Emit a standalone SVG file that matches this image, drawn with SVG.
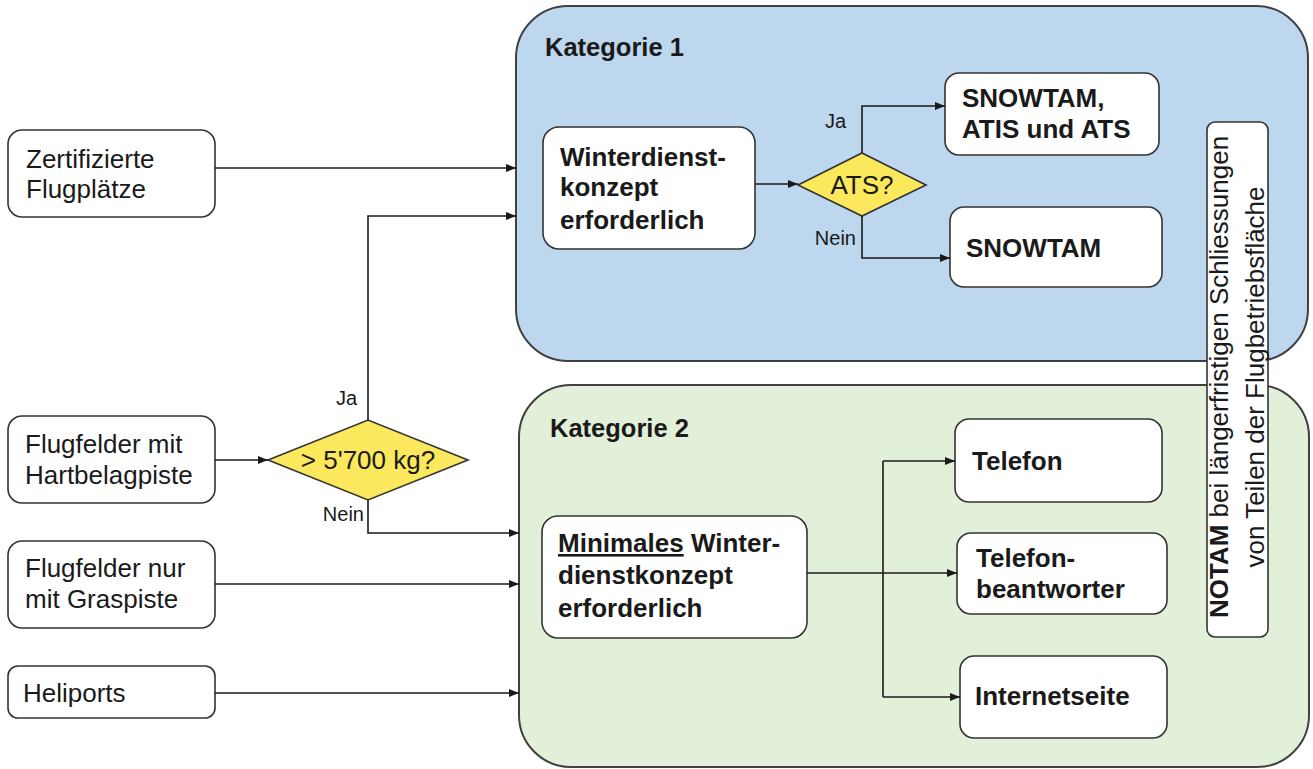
<svg xmlns="http://www.w3.org/2000/svg" width="1313" height="769" viewBox="0 0 1313 769">
<defs>
<style>
text{font-family:"Liberation Sans",Arial,sans-serif;fill:#1a1a1a}
.n{fill:#fff;stroke:#333;stroke-width:1.6}
.t{font-size:26px}
.b{font-size:26px;font-weight:bold}
.h{font-size:25.5px;font-weight:bold}
.l{font-size:20px}
.c{fill:none;stroke:#1a1a1a;stroke-width:1.6}
.d{fill:#FCE85C;stroke:#333;stroke-width:1.6}
</style>
<marker id="a" markerUnits="userSpaceOnUse" markerWidth="11" markerHeight="9" refX="10" refY="4" orient="auto">
<path d="M0,0 L10,4 L0,8 z" fill="#1a1a1a"/>
</marker>
</defs>
<rect width="1313" height="769" fill="#fff"/>
<g id="kategorie1">
<rect x="516" y="6" width="792" height="355" rx="52" fill="#BDD7EE" stroke="#404040" stroke-width="2"/>
<text class="h" x="545" y="56">Kategorie 1</text>
</g>
<g id="kategorie2">
<rect x="519" y="385" width="790" height="382" rx="52" fill="#E2F0D9" stroke="#404040" stroke-width="2"/>
<text class="h" x="550" y="437">Kategorie 2</text>
</g>
<g id="notam">
<rect class="n" x="1207" y="122" width="61" height="515" rx="8"/>
<text class="t" transform="translate(1228,377) rotate(-90)" text-anchor="middle"><tspan font-weight="bold">NOTAM</tspan>  bei längerfristigen Schliessungen</text>
<text class="t" transform="translate(1264,377) rotate(-90)" text-anchor="middle">von  Teilen der Flugbetriebsfläche</text>
</g>
<g id="zertifizierte">
<rect class="n" x="8" y="130" width="207" height="87" rx="14"/>
<text class="t" x="26" y="168">Zertifizierte</text>
<text class="t" x="26" y="198">Flugplätze</text>
</g>
<g id="hartbelag">
<rect class="n" x="8" y="416" width="207" height="87" rx="14"/>
<text class="t" x="25" y="453">Flugfelder mit</text>
<text class="t" x="25" y="484">Hartbelagpiste</text>
</g>
<g id="graspiste">
<rect class="n" x="8" y="541" width="207" height="87" rx="14"/>
<text class="t" x="25" y="577">Flugfelder nur</text>
<text class="t" x="25" y="608">mit Graspiste</text>
</g>
<g id="heliports">
<rect class="n" x="8" y="666" width="207" height="52" rx="10"/>
<text class="t" x="23" y="702">Heliports</text>
</g>
<g id="gewicht">
<polygon class="d" points="268,460 368,420 468,460 368,500"/>
<text class="t" x="368" y="469" text-anchor="middle">&gt; 5'700 kg?</text>
</g>
<g id="winterdienst">
<rect class="n" x="543" y="127" width="212" height="122" rx="16"/>
<text class="b" x="560" y="166">Winterdienst-</text>
<text class="b" x="560" y="196">konzept</text>
<text class="b" x="560" y="229">erforderlich</text>
</g>
<g id="ats">
<polygon class="d" points="798,185 862,153 926,185 862,216"/>
<text class="t" x="862" y="194" text-anchor="middle">ATS?</text>
</g>
<g id="snowtam-atis">
<rect class="n" x="945" y="73" width="214" height="82" rx="14"/>
<text class="b" x="962" y="107">SNOWTAM,</text>
<text class="b" x="962" y="138">ATIS und ATS</text>
</g>
<g id="snowtam">
<rect class="n" x="950" y="207" width="212" height="80" rx="14"/>
<text class="b" x="966" y="257">SNOWTAM</text>
</g>
<g id="minimales">
<rect class="n" x="542" y="516" width="265" height="122" rx="16"/>
<text class="b" x="558" y="552"><tspan text-decoration="underline">Minimales</tspan> Winter-</text>
<text class="b" x="558" y="584">dienstkonzept</text>
<text class="b" x="558" y="617">erforderlich</text>
</g>
<g id="telefon">
<rect class="n" x="955" y="419" width="207" height="83" rx="14"/>
<text class="b" x="972" y="470">Telefon</text>
</g>
<g id="beantworter">
<rect class="n" x="957" y="533" width="210" height="81" rx="14"/>
<text class="b" x="976" y="567">Telefon-</text>
<text class="b" x="976" y="598">beantworter</text>
</g>
<g id="internet">
<rect class="n" x="960" y="656" width="207" height="82" rx="14"/>
<text class="b" x="975" y="705">Internetseite</text>
</g>
<g id="connectors">
<path class="c" d="M215,168 H516" marker-end="url(#a)"/>
<path class="c" d="M368,420 V216 H516" marker-end="url(#a)"/>
<path class="c" d="M215,460 H268" marker-end="url(#a)"/>
<path class="c" d="M368,500 V533 H519" marker-end="url(#a)"/>
<path class="c" d="M215,584 H519" marker-end="url(#a)"/>
<path class="c" d="M215,693 H519" marker-end="url(#a)"/>
<path class="c" d="M755,184 H798" marker-end="url(#a)"/>
<path class="c" d="M862,153 V106 H945" marker-end="url(#a)"/>
<path class="c" d="M862,216 V258 H950" marker-end="url(#a)"/>
<path class="c" d="M807,573 H883"/>
<path class="c" d="M883,461 V697"/>
<path class="c" d="M883,461 H955" marker-end="url(#a)"/>
<path class="c" d="M883,573 H957" marker-end="url(#a)"/>
<path class="c" d="M883,697 H960" marker-end="url(#a)"/>
<text class="l" x="357" y="405" text-anchor="end">Ja</text>
<text class="l" x="364" y="521" text-anchor="end">Nein</text>
<text class="l" x="846" y="128" text-anchor="end">Ja</text>
<text class="l" x="856" y="245" text-anchor="end">Nein</text>
</g>
</svg>
